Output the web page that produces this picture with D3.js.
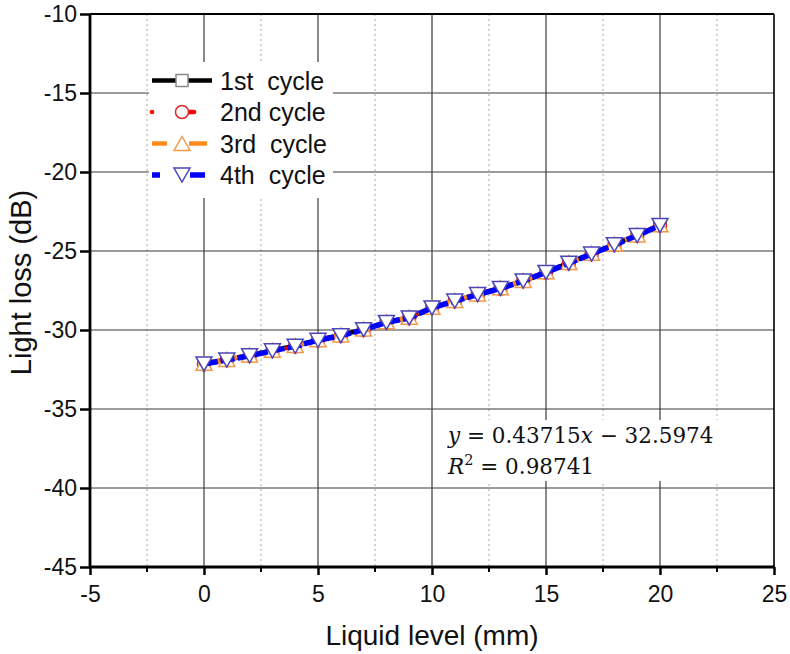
<!DOCTYPE html>
<html>
<head>
<meta charset="utf-8">
<script src="https://cdn.jsdelivr.net/npm/d3@7"></script>
<style>
  body { margin: 0; background: #fff; }
  text { font-family: "Liberation Sans", Arial, sans-serif; }
  text.eq { font-family: "DejaVu Serif", "Liberation Serif", serif; }
</style>
</head>
<body>
<div class="chart"></div>
<script>
// data
var level = [0, 1, 2, 3, 4, 5, 6, 7, 8, 9, 10, 11, 12, 13, 14, 15, 16, 17, 18, 19, 20];
var cycle1 = [-32.12, -31.88, -31.60, -31.30, -31.00, -30.63, -30.33, -29.96, -29.50, -29.21, -28.58,
              -28.15, -27.74, -27.35, -26.88, -26.33, -25.75, -25.17, -24.58, -24.00, -23.36];
var cycle2 = [-32.18, -31.92, -31.65, -31.34, -31.05, -30.67, -30.38, -30.00, -29.54, -29.26, -28.62,
              -28.19, -27.78, -27.39, -26.92, -26.38, -25.79, -25.21, -24.63, -24.04, -23.40];
var cycle3 = [-32.10, -31.86, -31.58, -31.28, -30.98, -30.61, -30.31, -29.94, -29.48, -29.19, -28.56,
              -28.13, -27.72, -27.33, -26.86, -26.31, -25.73, -25.15, -24.56, -23.98, -23.34];
var cycle4 = [-32.15, -31.90, -31.63, -31.32, -31.03, -30.65, -30.36, -29.98, -29.52, -29.24, -28.60,
              -28.17, -27.76, -27.37, -26.90, -26.36, -25.77, -25.19, -24.61, -24.02, -23.38];
var seriesNames = ["1st  cycle", "2nd cycle", "3rd  cycle", "4th  cycle"];
var xTicks = [-5, 0, 5, 10, 15, 20, 25];
var xMinor = [-2.5, 2.5, 7.5, 12.5, 17.5, 22.5];
var yTicks = [-45, -40, -35, -30, -25, -20, -15, -10];

var svgWidth = 790;
var svgHeight = 654;
var margin = { top: 14, right: 16, bottom: 87, left: 90 };
var width = svgWidth - margin.left - margin.right;
var height = svgHeight - margin.top - margin.bottom;

var svg = d3.select(".chart")
  .append("svg")
    .attr("width", svgWidth)
    .attr("height", svgHeight)
  .append("g")
    .attr("transform", "translate(" + margin.left + "," + margin.top + ")");

var x = d3.scaleLinear().domain([-5, 25]).range([0, width]);
var y = d3.scaleLinear().domain([-45, -10]).range([height, 0]);

// grid
svg.selectAll(".vminor").data(xMinor).enter().append("line")
  .attr("x1", function(d) { return x(d); }).attr("x2", function(d) { return x(d); })
  .attr("y1", 0).attr("y2", height)
  .attr("stroke", "#aaa").attr("stroke-width", 1).attr("stroke-dasharray", "2,3");
svg.selectAll(".vmajor").data(xTicks.slice(1, -1)).enter().append("line")
  .attr("x1", function(d) { return x(d); }).attr("x2", function(d) { return x(d); })
  .attr("y1", 0).attr("y2", height)
  .attr("stroke", "#3a3a3a").attr("stroke-width", 1.2);
svg.selectAll(".hmajor").data(yTicks.slice(1, -1)).enter().append("line")
  .attr("x1", 0).attr("x2", width)
  .attr("y1", function(d) { return y(d); }).attr("y2", function(d) { return y(d); })
  .attr("stroke", "#3a3a3a").attr("stroke-width", 1.2);

// white boxes behind legend and equation
svg.append("rect")
  .attr("x", 59).attr("y", 48).attr("width", 184).attr("height", 136)
  .attr("fill", "#fff");
svg.append("rect")
  .attr("x", x(10) + 2).attr("y", 406).attr("width", width - x(10) - 3).attr("height", 61)
  .attr("fill", "#fff");

// marker shapes
var downTri = { draw: function(ctx, s) { ctx.moveTo(-8, -7); ctx.lineTo(8, -7); ctx.lineTo(0, 7); ctx.closePath(); } };
var upTri = { draw: function(ctx, s) { ctx.moveTo(0, -7); ctx.lineTo(8, 7); ctx.lineTo(-8, 7); ctx.closePath(); } };
var square = { draw: function(ctx, s) { ctx.rect(-6, -6, 12, 12); } };
var circle = { draw: function(ctx, s) { ctx.moveTo(6.5, 0); ctx.arc(0, 0, 6.5, 0, 2 * Math.PI); } };

var series = [
  { name: seriesNames[0], values: cycle1, line: "#000", dash: null, legDash: null, lw: 4.5, cap: "butt", shape: square, mk: "#8a8a8a" },
  { name: seriesNames[1], values: cycle2, line: "#ff0000", dash: "0.1,12", legDash: "0.1,33,9,40", lw: 4.5, cap: "round", shape: circle, mk: "#e02828" },
  { name: seriesNames[2], values: cycle3, line: "#ff8a1c", dash: "16,6", legDash: "15,22,18,60", lw: 4.5, cap: "butt", shape: upTri, mk: "#f39a4a" },
  { name: seriesNames[3], values: cycle4, line: "#0000ff", dash: "14,3", legDash: "8,30,15,60", lw: 5.5, cap: "butt", shape: downTri, mk: "#4a46b8" }
];

var line = d3.line()
  .x(function(d) { return x(d[0]); })
  .y(function(d) { return y(d[1]); });

series.forEach(function(s) {
  var pts = level.map(function(v, i) { return [v, s.values[i]]; });
  svg.append("path")
    .datum(pts)
    .attr("d", line)
    .attr("fill", "none")
    .attr("stroke", s.line)
    .attr("stroke-width", s.lw)
    .attr("stroke-linecap", s.cap)
    .attr("stroke-dasharray", s.dash);
  svg.selectAll(null).data(pts).enter().append("path")
    .attr("d", d3.symbol().type(s.shape))
    .attr("transform", function(d) { return "translate(" + x(d[0]) + "," + y(d[1]) + ")"; })
    .attr("fill", "#fff")
    .attr("stroke", s.mk)
    .attr("stroke-width", 1.5);
});

// legend
var legend = svg.selectAll(".legend").data(series).enter().append("g")
  .attr("transform", function(d, i) { return "translate(62," + (66.5 + i * 31.5) + ")"; });
legend.append("line")
  .attr("x1", 0).attr("x2", 60).attr("y1", 0).attr("y2", 0)
  .attr("stroke", function(d) { return d.line; })
  .attr("stroke-width", function(d) { return d.lw; })
  .attr("stroke-linecap", function(d) { return d.cap; })
  .attr("stroke-dasharray", function(d) { return d.legDash; });
legend.append("path")
  .attr("d", function(d) { return d3.symbol().type(d.shape)(); })
  .attr("transform", "translate(30,0)")
  .attr("fill", "#fff")
  .attr("stroke", function(d) { return d.mk; })
  .attr("stroke-width", 1.5);
legend.append("text")
  .attr("x", 68).attr("y", 9)
  .attr("font-size", 25)
  .attr("fill", "#111")
  .style("white-space", "pre")
  .text(function(d) { return d.name; });

// axes
var xAxis = d3.axisBottom(x).tickValues(xTicks).tickSize(8);
var gx = svg.append("g")
  .attr("transform", "translate(0," + height + ")")
  .call(xAxis);
gx.selectAll(".domain").remove();
gx.selectAll(".tick line").attr("stroke", "#000").attr("stroke-width", 2.5);
gx.selectAll(".tick text").attr("font-size", 23).attr("fill", "#111").attr("dy", "1.05em")
  .text(function(d) { return String(d); });
svg.selectAll(".xminortick").data(xMinor).enter().append("line")
  .attr("x1", function(d) { return x(d); }).attr("x2", function(d) { return x(d); })
  .attr("y1", height).attr("y2", height + 5)
  .attr("stroke", "#000").attr("stroke-width", 2);

var yAxis = d3.axisLeft(y).tickValues(yTicks).tickSize(10);
var gy = svg.append("g").call(yAxis);
gy.selectAll(".domain").remove();
gy.selectAll(".tick line").attr("stroke", "#000").attr("stroke-width", 2.5);
gy.selectAll(".tick text").attr("font-size", 23).attr("fill", "#111").attr("x", -13)
  .text(function(d) { return String(d); });

// frame
svg.append("line").attr("x1", 0).attr("x2", width).attr("y1", 0).attr("y2", 0)
  .attr("stroke", "#000").attr("stroke-width", 2);
svg.append("line").attr("x1", width).attr("x2", width).attr("y1", 0).attr("y2", height)
  .attr("stroke", "#000").attr("stroke-width", 1.6);
svg.append("line").attr("x1", 0).attr("x2", width + 1).attr("y1", height).attr("y2", height)
  .attr("stroke", "#000").attr("stroke-width", 2.8);
svg.append("line").attr("x1", 0).attr("x2", 0).attr("y1", 0).attr("y2", height + 1)
  .attr("stroke", "#000").attr("stroke-width", 2.8);

// axis titles
svg.append("text")
  .attr("x", width / 2).attr("y", height + 78)
  .attr("text-anchor", "middle")
  .attr("font-size", 28)
  .attr("fill", "#111")
  .text("Liquid level (mm)");
svg.append("text")
  .attr("transform", "rotate(-90)")
  .attr("x", -(height / 2) + 8).attr("y", -59)
  .attr("text-anchor", "middle")
  .attr("font-size", 29)
  .attr("fill", "#111")
  .text("Light loss (dB)");

// fit equation
var l1 = svg.append("text").attr("class", "eq")
  .attr("x", 358).attr("y", 429)
  .attr("font-size", 21.5).attr("fill", "#111");
l1.append("tspan").attr("font-style", "italic").text("y");
l1.append("tspan").text(" = 0.43715");
l1.append("tspan").attr("font-style", "italic").text("x");
l1.append("tspan").text(" \u2212 32.5974");
var l2 = svg.append("text").attr("class", "eq")
  .attr("x", 358).attr("y", 460)
  .attr("font-size", 21.5).attr("fill", "#111");
l2.append("tspan").attr("font-style", "italic").text("R");
l2.append("tspan").attr("font-size", 14.5).attr("dy", -9).text("2");
l2.append("tspan").attr("dy", 9).text(" = 0.98741");
</script>
</body>
</html>
